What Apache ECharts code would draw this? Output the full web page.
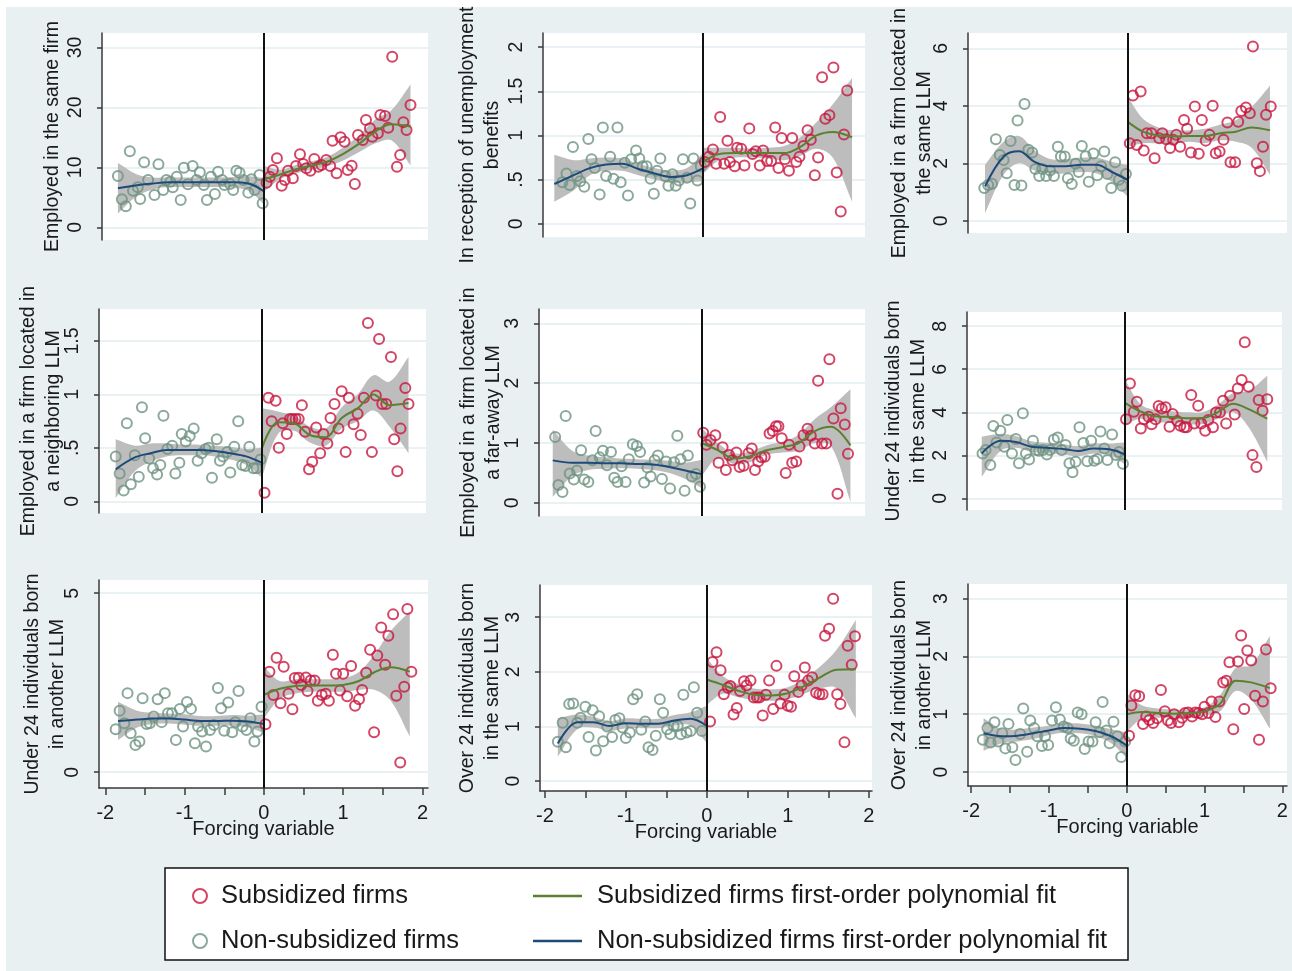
<!DOCTYPE html>
<html>
<head>
<meta charset="utf-8">
<script src="https://cdn.jsdelivr.net/npm/echarts@6/dist/echarts.min.js"></script>
<style>
html, body { margin: 0; padding: 0; background: #fff; }
#main { width: 1292px; height: 971px; }
</style>
</head>
<body>
<div id="main"></div>
<script>
// x positions where the fitted curves / bands are read
var xLeft  = [-1.84, -1.6, -1.4, -1.2, -1.0, -0.8, -0.6, -0.4, -0.2, 0];
var xRight = [0, 0.2, 0.4, 0.6, 0.8, 1.0, 1.2, 1.4, 1.6, 1.84];

// panel 1: Employed in the same firm
var nonSub1 = [[-1.84,8.56],[-1.79,4.67],[-1.74,3.5],[-1.69,12.67],[-1.65,6.11],[-1.59,6.67],[-1.56,4.72],[-1.51,10.83],[-1.46,7.89],[-1.38,5.39],[-1.33,10.5],[-1.27,6.22],[-1.23,7.89],[-1.18,7.61],[-1.15,6.67],[-1.1,8.44],[-1.05,4.56],[-1.01,9.94],[-0.96,7.17],[-0.9,10.22],[-0.85,7.89],[-0.81,9.17],[-0.76,7.06],[-0.72,4.56],[-0.67,8.44],[-0.62,5.56],[-0.58,9.28],[-0.53,7.89],[-0.5,7.06],[-0.43,7.22],[-0.39,6.22],[-0.35,9.44],[-0.31,9.11],[-0.26,7.89],[-0.2,5.78],[-0.16,8.0],[-0.12,6.22],[-0.06,8.72],[-0.02,4.0]];
var sub1 = [[0.03,7.44],[0.07,8.44],[0.11,9.56],[0.16,11.5],[0.22,6.94],[0.26,7.89],[0.3,9.44],[0.36,8.17],[0.4,10.22],[0.45,12.17],[0.49,10.56],[0.53,9.83],[0.58,9.44],[0.63,11.39],[0.68,10.11],[0.72,10.39],[0.78,11.22],[0.83,10.22],[0.86,14.44],[0.91,9.0],[0.96,15.0],[1.01,14.28],[1.05,9.56],[1.1,10.28],[1.14,7.22],[1.18,15.39],[1.24,14.56],[1.28,17.89],[1.33,16.5],[1.36,15.11],[1.43,15.67],[1.46,18.72],[1.52,18.56],[1.56,16.61],[1.61,28.44],[1.67,10.11],[1.71,12.06],[1.75,17.5],[1.79,16.22],[1.84,20.39]];
var fitNon1 = [6.5,7.0,7.3,7.5,7.5,7.5,7.5,7.5,7.3,6.0];
var loNon1  = [2.3,5.2,6.3,6.7,6.7,6.7,6.7,6.6,6.1,3.8];
var hiNon1  = [10.7,8.8,8.3,8.3,8.3,8.3,8.3,8.4,8.5,8.2];
var fitSub1 = [8.0,8.8,9.7,10.3,11.0,12.3,14.0,16.0,17.2,16.8];
var loSub1  = [6.0,8.0,9.0,9.6,10.2,11.2,12.6,14.0,14.5,10.3];
var hiSub1  = [10.2,9.6,10.4,11.0,11.8,13.4,15.4,18.0,19.5,23.8];

// panel 2: In reception of unemployment benefits
var nonSub2 = [[-1.74,0.47],[-1.69,0.57],[-1.65,0.44],[-1.61,0.87],[-1.56,0.54],[-1.52,0.48],[-1.47,0.42],[-1.42,0.96],[-1.38,0.73],[-1.34,0.63],[-1.28,0.33],[-1.24,1.09],[-1.2,0.54],[-1.15,0.76],[-1.11,0.51],[-1.06,1.09],[-1.02,0.47],[-0.97,0.69],[-0.93,0.32],[-0.89,0.73],[-0.83,0.83],[-0.79,0.74],[-0.75,0.65],[-0.7,0.65],[-0.65,0.51],[-0.61,0.34],[-0.57,0.6],[-0.53,0.74],[-0.47,0.54],[-0.43,0.43],[-0.38,0.56],[-0.34,0.43],[-0.3,0.49],[-0.25,0.73],[-0.2,0.52],[-0.16,0.23],[-0.12,0.74],[-0.07,0.49],[-0.03,0.65]];
var sub2 = [[0.02,0.7],[0.07,0.76],[0.12,0.84],[0.16,0.68],[0.21,1.21],[0.26,0.68],[0.3,0.94],[0.33,0.7],[0.39,0.65],[0.42,0.86],[0.47,0.85],[0.51,0.66],[0.57,1.08],[0.61,0.79],[0.65,0.82],[0.7,0.66],[0.74,0.83],[0.79,0.71],[0.84,0.71],[0.89,1.09],[0.93,0.63],[0.97,0.97],[1.01,0.73],[1.06,0.6],[1.1,0.97],[1.15,0.7],[1.19,0.76],[1.24,0.88],[1.29,1.06],[1.33,0.95],[1.38,0.55],[1.42,0.75],[1.47,1.66],[1.51,1.19],[1.56,1.23],[1.61,1.77],[1.65,0.58],[1.7,0.14],[1.74,1.01],[1.78,1.51]];
var fitNon2 = [0.45,0.55,0.63,0.67,0.68,0.62,0.57,0.53,0.55,0.63];
var loNon2  = [0.25,0.38,0.55,0.6,0.6,0.55,0.5,0.46,0.47,0.48];
var hiNon2  = [0.78,0.72,0.74,0.75,0.74,0.68,0.63,0.6,0.63,0.8];
var fitSub2 = [0.70,0.79,0.80,0.80,0.80,0.80,0.87,1.0,1.04,0.98];
var loSub2  = [0.57,0.72,0.75,0.75,0.74,0.72,0.77,0.85,0.75,0.25];
var hiSub2  = [0.86,0.86,0.86,0.85,0.86,0.88,0.98,1.15,1.35,1.65];

// panel 3: Employed in a firm located in the same LLM
var nonSub3 = [[-1.85,1.14],[-1.8,1.25],[-1.75,1.29],[-1.7,2.84],[-1.65,2.29],[-1.6,2.12],[-1.56,1.66],[-1.51,2.78],[-1.46,1.25],[-1.42,3.49],[-1.37,1.23],[-1.33,4.06],[-1.28,2.47],[-1.23,2.38],[-1.19,1.8],[-1.14,1.56],[-1.1,1.8],[-1.05,1.56],[-1.0,1.75],[-0.95,1.56],[-0.9,2.58],[-0.86,2.24],[-0.81,2.24],[-0.77,1.48],[-0.72,1.28],[-0.67,1.99],[-0.63,1.7],[-0.59,2.6],[-0.54,2.25],[-0.5,1.36],[-0.44,2.34],[-0.39,1.59],[-0.34,1.9],[-0.3,2.41],[-0.26,1.63],[-0.21,1.14],[-0.16,2.04],[-0.11,1.43],[-0.07,1.22],[-0.02,1.63]];
var sub3 = [[0.03,2.7],[0.07,4.36],[0.12,2.64],[0.17,4.5],[0.21,2.45],[0.25,3.05],[0.31,3.05],[0.35,2.18],[0.41,2.87],[0.45,3.05],[0.5,2.84],[0.55,2.53],[0.59,2.82],[0.63,2.99],[0.68,2.58],[0.73,3.51],[0.77,3.2],[0.82,2.38],[0.87,3.98],[0.92,2.33],[0.96,3.51],[1.01,2.79],[1.06,2.99],[1.1,4.0],[1.14,2.35],[1.19,2.41],[1.24,2.82],[1.29,3.42],[1.33,2.04],[1.39,2.04],[1.43,3.45],[1.47,3.82],[1.53,3.94],[1.58,3.74],[1.62,6.06],[1.67,2.0],[1.71,1.73],[1.75,2.58],[1.79,3.69],[1.85,3.98]];
var fitNon3 = [1.2,2.24,2.42,2.05,1.9,1.9,1.95,1.95,1.7,1.43];
var loNon3  = [0.27,1.6,2.0,1.75,1.65,1.65,1.7,1.65,1.35,0.85];
var hiNon3  = [1.95,2.75,2.95,2.45,2.15,2.15,2.2,2.2,2.05,1.95];
var fitSub3 = [3.45,3.1,2.97,2.93,2.95,2.95,3.05,3.1,3.25,3.15];
var loSub3  = [2.58,2.7,2.7,2.7,2.75,2.7,2.8,2.75,2.55,1.6];
var hiSub3  = [4.32,3.55,3.25,3.15,3.15,3.2,3.35,3.5,3.95,4.7];

// panel 4: Employed in a firm located in a neighboring LLM
var nonSub4 = [[-1.84,0.42],[-1.79,0.26],[-1.74,0.1],[-1.7,0.73],[-1.65,0.16],[-1.6,0.43],[-1.55,0.23],[-1.51,0.88],[-1.47,0.59],[-1.42,0.4],[-1.37,0.31],[-1.32,0.25],[-1.28,0.34],[-1.24,0.8],[-1.19,0.49],[-1.13,0.52],[-1.09,0.26],[-1.04,0.36],[-1.01,0.63],[-0.96,0.56],[-0.91,0.61],[-0.86,0.68],[-0.81,0.38],[-0.76,0.45],[-0.71,0.49],[-0.67,0.5],[-0.63,0.22],[-0.57,0.58],[-0.53,0.38],[-0.49,0.42],[-0.44,0.46],[-0.4,0.27],[-0.35,0.51],[-0.3,0.75],[-0.25,0.34],[-0.21,0.33],[-0.16,0.51],[-0.11,0.31],[-0.07,0.31],[-0.02,0.39]];
var sub4 = [[0.03,0.08],[0.08,0.97],[0.12,0.75],[0.17,0.94],[0.21,0.5],[0.26,0.73],[0.31,0.63],[0.35,0.77],[0.38,0.77],[0.42,0.77],[0.46,0.77],[0.5,0.9],[0.54,0.65],[0.59,0.3],[0.63,0.37],[0.68,0.69],[0.73,0.45],[0.77,0.63],[0.82,0.54],[0.86,0.78],[0.91,0.91],[0.96,0.68],[1.0,1.03],[1.05,0.46],[1.09,0.97],[1.15,0.72],[1.2,0.82],[1.24,0.62],[1.28,0.97],[1.33,1.67],[1.38,0.46],[1.43,0.99],[1.47,1.52],[1.51,0.91],[1.56,0.91],[1.62,1.35],[1.66,0.58],[1.7,0.28],[1.74,0.68],[1.8,1.06],[1.84,0.91]];
var fitNon4 = [0.30,0.41,0.45,0.48,0.48,0.48,0.47,0.45,0.42,0.36];
var loNon4  = [0.03,0.28,0.37,0.42,0.43,0.43,0.42,0.39,0.34,0.22];
var hiNon4  = [0.58,0.52,0.54,0.54,0.53,0.53,0.52,0.51,0.49,0.5];
var fitSub4 = [0.5,0.74,0.73,0.62,0.60,0.78,0.87,1.0,0.9,0.92];
var loSub4  = [0.23,0.63,0.66,0.55,0.52,0.68,0.75,0.85,0.7,0.45];
var hiSub4  = [0.87,0.84,0.8,0.7,0.68,0.88,1.0,1.18,1.12,1.35];

// panel 5: Employed in a firm located in a far-away LLM
var nonSub5 = [[-1.81,1.1],[-1.77,0.3],[-1.72,0.18],[-1.68,1.45],[-1.63,0.49],[-1.58,0.39],[-1.54,0.54],[-1.49,0.88],[-1.45,0.39],[-1.4,0.35],[-1.35,0.71],[-1.31,1.2],[-1.26,0.76],[-1.22,0.87],[-1.17,0.63],[-1.12,0.85],[-1.08,0.42],[-1.04,0.35],[-0.99,0.61],[-0.94,0.35],[-0.9,0.73],[-0.85,0.98],[-0.8,0.95],[-0.76,0.85],[-0.71,0.34],[-0.67,0.59],[-0.63,0.44],[-0.58,0.71],[-0.54,0.79],[-0.49,0.4],[-0.44,0.69],[-0.39,0.24],[-0.34,0.68],[-0.3,1.12],[-0.26,0.73],[-0.21,0.2],[-0.17,0.79],[-0.12,0.44],[-0.07,0.48],[-0.02,0.27]];
var sub5 = [[0.02,1.17],[0.06,0.97],[0.11,1.05],[0.17,1.13],[0.21,0.67],[0.26,0.93],[0.3,0.55],[0.34,0.8],[0.38,0.71],[0.43,0.84],[0.47,0.6],[0.52,0.62],[0.58,0.83],[0.62,0.91],[0.66,0.55],[0.7,0.69],[0.74,0.76],[0.78,0.77],[0.84,1.16],[0.88,1.2],[0.92,1.28],[0.95,1.28],[0.99,1.08],[1.04,0.5],[1.08,0.97],[1.12,0.67],[1.17,0.69],[1.21,0.94],[1.26,1.13],[1.31,1.24],[1.35,1.12],[1.4,0.99],[1.44,2.04],[1.49,0.99],[1.54,0.99],[1.58,2.4],[1.63,1.41],[1.68,0.15],[1.72,1.58],[1.77,1.31],[1.81,0.82]];
var fitNon5 = [0.71,0.67,0.67,0.66,0.66,0.65,0.64,0.6,0.54,0.48];
var loNon5  = [0.1,0.45,0.55,0.57,0.58,0.57,0.55,0.5,0.4,0.25];
var hiNon5  = [1.22,0.87,0.79,0.76,0.74,0.73,0.72,0.7,0.67,0.72];
var fitSub5 = [1.0,0.88,0.74,0.78,0.88,0.93,1.0,1.2,1.27,0.96];
var loSub5  = [0.45,0.75,0.65,0.68,0.8,0.84,0.87,1.0,0.95,0.02];
var hiSub5  = [1.25,1.0,0.83,0.86,0.96,1.02,1.14,1.4,1.6,1.9];

// panel 6: Under 24 individuals born in the same LLM
var nonSub6 = [[-1.83,2.09],[-1.79,2.25],[-1.73,1.55],[-1.69,3.36],[-1.65,2.6],[-1.6,3.14],[-1.55,2.4],[-1.51,3.64],[-1.45,2.09],[-1.4,2.76],[-1.36,1.63],[-1.31,3.95],[-1.27,2.09],[-1.23,1.81],[-1.18,2.68],[-1.14,2.25],[-1.1,2.21],[-1.05,2.25],[-1.0,2.04],[-0.96,2.25],[-0.91,2.74],[-0.86,2.83],[-0.81,2.25],[-0.76,2.48],[-0.71,1.63],[-0.67,1.21],[-0.63,1.7],[-0.58,3.3],[-0.53,2.57],[-0.48,1.72],[-0.43,2.68],[-0.39,1.75],[-0.35,1.83],[-0.31,3.11],[-0.26,2.32],[-0.22,1.78],[-0.16,2.97],[-0.11,2.01],[-0.07,2.15],[-0.02,1.61]];
var sub6 = [[0.02,3.68],[0.07,5.34],[0.12,4.03],[0.16,4.49],[0.21,3.25],[0.25,3.68],[0.31,3.79],[0.35,3.44],[0.4,3.68],[0.44,4.29],[0.48,4.18],[0.53,4.23],[0.58,3.33],[0.62,3.92],[0.68,3.59],[0.72,3.38],[0.77,3.3],[0.8,3.3],[0.86,4.8],[0.9,3.48],[0.95,4.3],[0.99,3.48],[1.04,3.14],[1.08,3.64],[1.14,3.3],[1.18,3.99],[1.23,3.99],[1.27,4.54],[1.31,3.48],[1.36,4.77],[1.42,3.9],[1.46,5.11],[1.51,5.5],[1.55,7.25],[1.6,5.19],[1.65,2.01],[1.7,1.46],[1.73,4.57],[1.78,4.07],[1.84,4.61]];
var fitNon6 = [2.09,2.68,2.62,2.4,2.35,2.3,2.2,2.32,2.28,2.05];
var loNon6  = [1.0,2.2,2.35,2.15,2.1,2.05,1.95,2.08,2.02,1.6];
var hiNon6  = [2.86,3.0,2.9,2.65,2.58,2.53,2.43,2.56,2.55,2.6];
var fitSub6 = [4.45,4.05,3.82,3.78,3.72,3.73,4.0,4.4,4.15,3.7];
var loSub6  = [3.4,3.7,3.55,3.5,3.45,3.45,3.7,4.0,3.3,1.7];
var hiSub6  = [5.57,4.4,4.1,4.05,4.0,4.0,4.35,4.9,5.0,5.7];

// panel 7: Under 24 individuals born in another LLM
var nonSub7 = [[-1.87,1.2],[-1.82,1.72],[-1.76,1.37],[-1.72,2.21],[-1.68,1.09],[-1.62,0.76],[-1.57,0.86],[-1.53,2.07],[-1.48,1.35],[-1.44,1.37],[-1.39,1.56],[-1.34,2.04],[-1.29,1.4],[-1.25,2.21],[-1.21,1.65],[-1.16,1.65],[-1.11,0.9],[-1.06,1.77],[-1.02,1.28],[-0.97,1.96],[-0.92,1.77],[-0.87,0.81],[-0.83,1.28],[-0.78,1.14],[-0.73,0.72],[-0.68,1.18],[-0.63,1.32],[-0.58,2.35],[-0.54,1.79],[-0.5,1.16],[-0.45,1.95],[-0.4,1.12],[-0.36,1.4],[-0.32,2.27],[-0.27,1.28],[-0.22,1.18],[-0.17,1.51],[-0.12,0.86],[-0.08,1.14],[-0.03,1.83]];
var sub7 = [[0.02,1.34],[0.07,2.81],[0.12,2.16],[0.16,3.2],[0.21,1.93],[0.25,2.95],[0.31,2.19],[0.36,1.76],[0.39,2.63],[0.44,2.64],[0.47,2.44],[0.53,2.65],[0.55,2.27],[0.59,2.56],[0.64,2.56],[0.68,2.0],[0.73,2.16],[0.78,2.19],[0.82,2.0],[0.87,3.28],[0.91,2.75],[0.96,2.28],[1.0,2.75],[1.05,2.12],[1.1,2.97],[1.15,1.86],[1.2,2.04],[1.24,2.3],[1.29,2.78],[1.34,3.42],[1.39,1.12],[1.43,3.26],[1.48,4.04],[1.53,3.0],[1.57,3.81],[1.63,4.41],[1.67,2.14],[1.72,0.27],[1.77,2.39],[1.81,4.56],[1.86,2.81]];
var fitNon7 = [1.43,1.47,1.5,1.5,1.47,1.43,1.43,1.44,1.42,1.35];
var loNon7  = [0.9,1.25,1.35,1.36,1.33,1.3,1.3,1.3,1.25,1.1];
var hiNon7  = [1.97,1.72,1.66,1.64,1.62,1.57,1.57,1.6,1.58,1.62];
var fitSub7 = [2.16,2.33,2.41,2.42,2.42,2.44,2.55,2.8,2.93,2.81];
var loSub7  = [1.5,2.05,2.2,2.25,2.25,2.25,2.3,2.3,2.0,1.0];
var hiSub7  = [2.95,2.55,2.6,2.6,2.6,2.62,2.8,3.3,3.95,4.5];

// panel 8: Over 24 individuals born in the same LLM
var nonSub8 = [[-1.84,0.72],[-1.78,1.07],[-1.74,0.62],[-1.7,1.41],[-1.65,1.42],[-1.6,1.07],[-1.56,1.16],[-1.5,1.36],[-1.46,0.81],[-1.41,1.3],[-1.37,0.56],[-1.33,1.19],[-1.28,0.73],[-1.23,1.0],[-1.17,0.81],[-1.13,1.12],[-1.08,1.15],[-1.04,0.98],[-1.0,0.79],[-0.95,0.89],[-0.91,1.5],[-0.86,1.59],[-0.81,0.94],[-0.76,1.09],[-0.72,0.62],[-0.67,0.57],[-0.63,0.83],[-0.58,1.5],[-0.54,1.25],[-0.49,0.95],[-0.45,0.86],[-0.41,1.01],[-0.36,1.01],[-0.32,0.86],[-0.29,1.58],[-0.25,0.89],[-0.2,0.92],[-0.16,1.72],[-0.12,1.25],[-0.06,0.92]];
var sub8 = [[0.04,1.09],[0.07,2.18],[0.12,2.36],[0.17,2.03],[0.21,1.59],[0.26,1.71],[0.29,1.74],[0.33,1.22],[0.37,1.34],[0.41,1.65],[0.46,1.83],[0.49,1.75],[0.54,1.84],[0.58,1.53],[0.62,1.53],[0.65,1.53],[0.69,1.2],[0.73,1.58],[0.77,1.84],[0.82,1.32],[0.86,2.11],[0.91,1.42],[0.96,1.58],[1.0,1.38],[1.04,1.36],[1.08,1.92],[1.13,1.63],[1.17,1.75],[1.21,2.08],[1.25,1.84],[1.3,1.9],[1.35,1.62],[1.39,1.59],[1.43,1.59],[1.46,2.66],[1.51,2.79],[1.56,3.34],[1.61,1.59],[1.65,1.41],[1.7,0.71],[1.74,2.48],[1.79,2.13],[1.83,2.65]];
var fitNon8 = [0.69,1.08,1.08,1.01,1.06,1.05,1.05,1.11,1.14,1.01];
var loNon8  = [0.45,0.95,0.98,0.92,0.97,0.97,0.97,1.02,1.02,0.7];
var hiNon8  = [1.15,1.22,1.18,1.1,1.15,1.14,1.14,1.21,1.26,1.38];
var fitSub8 = [1.86,1.76,1.65,1.58,1.57,1.61,1.74,1.9,2.04,2.05];
var loSub8  = [1.4,1.6,1.53,1.48,1.47,1.5,1.6,1.7,1.7,1.15];
var hiSub8  = [2.25,1.92,1.77,1.69,1.68,1.72,1.88,2.1,2.4,2.95];

// panel 9: Over 24 individuals born in another LLM
var nonSub9 = [[-1.85,0.56],[-1.79,0.76],[-1.75,0.51],[-1.7,0.86],[-1.65,0.53],[-1.6,0.67],[-1.56,0.41],[-1.52,0.83],[-1.47,0.43],[-1.43,0.21],[-1.37,0.66],[-1.33,1.1],[-1.28,0.35],[-1.24,0.89],[-1.19,0.76],[-1.15,0.62],[-1.09,0.45],[-1.05,0.62],[-1.01,0.47],[-0.96,0.89],[-0.91,1.12],[-0.86,0.91],[-0.81,0.79],[-0.76,0.76],[-0.72,0.58],[-0.68,0.54],[-0.63,1.03],[-0.58,1.0],[-0.54,0.4],[-0.49,0.53],[-0.44,0.53],[-0.4,0.86],[-0.35,0.69],[-0.31,1.21],[-0.26,0.72],[-0.22,0.5],[-0.17,0.87],[-0.12,0.62],[-0.07,0.26],[-0.02,0.53]];
var sub9 = [[0.03,0.63],[0.06,1.15],[0.11,1.33],[0.16,1.31],[0.21,0.83],[0.25,0.96],[0.29,0.9],[0.34,0.85],[0.39,0.93],[0.44,1.42],[0.49,1.05],[0.53,0.89],[0.57,0.85],[0.61,1.0],[0.67,0.86],[0.71,0.94],[0.75,1.02],[0.79,1.03],[0.84,0.96],[0.88,1.03],[0.92,1.02],[0.97,1.0],[1.0,1.13],[1.05,1.02],[1.09,1.22],[1.14,0.95],[1.19,1.22],[1.24,1.55],[1.28,1.58],[1.32,1.9],[1.37,0.74],[1.43,1.91],[1.47,2.36],[1.51,1.09],[1.55,2.1],[1.6,1.93],[1.65,1.32],[1.7,0.56],[1.75,1.22],[1.79,2.12],[1.85,1.45]];
var fitNon9 = [0.67,0.62,0.63,0.67,0.72,0.76,0.75,0.71,0.62,0.46];
var loNon9  = [0.37,0.5,0.53,0.57,0.64,0.68,0.67,0.62,0.5,0.25];
var hiNon9  = [0.93,0.74,0.74,0.77,0.8,0.84,0.84,0.8,0.74,0.68];
var fitSub9 = [1.0,1.04,1.02,1.01,1.02,1.05,1.18,1.58,1.55,1.45];
var loSub9  = [0.7,0.93,0.94,0.94,0.96,0.98,1.05,1.4,1.25,0.75];
var hiSub9  = [1.36,1.15,1.1,1.08,1.08,1.12,1.33,1.8,1.85,2.35];

var titles = [
    'Employed in the same firm',
    'In reception of unemployment\nbenefits',
    'Employed in a firm located in\nthe same LLM',
    'Employed in a firm located in\na neighboring LLM',
    'Employed in a firm located in\na far-away LLM',
    'Under 24 individuals born\nin the same LLM',
    'Under 24 individuals born\nin another LLM',
    'Over 24 individuals born\nin the same LLM',
    'Over 24 individuals born\nin another LLM'
];
var yTicks = [[0,10,20,30],[0,0.5,1,1.5,2],[0,2,4,6],[0,0.5,1,1.5],[0,1,2,3],[0,2,4,6,8],[0,5],[0,1,2,3],[0,1,2,3]];
var xTicks = [-2,-1.5,-1,-0.5,0,0.5,1,1.5,2];
var xLabels = [-2,-1,0,1,2];

var nonSub = [nonSub1,nonSub2,nonSub3,nonSub4,nonSub5,nonSub6,nonSub7,nonSub8,nonSub9];
var sub = [sub1,sub2,sub3,sub4,sub5,sub6,sub7,sub8,sub9];
var fitNon = [fitNon1,fitNon2,fitNon3,fitNon4,fitNon5,fitNon6,fitNon7,fitNon8,fitNon9];
var loNon = [loNon1,loNon2,loNon3,loNon4,loNon5,loNon6,loNon7,loNon8,loNon9];
var hiNon = [hiNon1,hiNon2,hiNon3,hiNon4,hiNon5,hiNon6,hiNon7,hiNon8,hiNon9];
var fitSub = [fitSub1,fitSub2,fitSub3,fitSub4,fitSub5,fitSub6,fitSub7,fitSub8,fitSub9];
var loSub = [loSub1,loSub2,loSub3,loSub4,loSub5,loSub6,loSub7,loSub8,loSub9];
var hiSub = [hiSub1,hiSub2,hiSub3,hiSub4,hiSub5,hiSub6,hiSub7,hiSub8,hiSub9];

// layout of each panel (pixels + axis extents)
var layout = [
    {left:102, top:33,  width:326, height:207, x:[-2.04,2.06], y:[-2.12,32.4], gap:37},
    {left:543, top:33,  width:322, height:204, x:[-1.98,2.0],  y:[-0.15,2.16], gap:38},
    {left:968, top:33,  width:319, height:200, x:[-2.06,2.06], y:[-0.42,6.53], gap:31},
    {left:99,  top:309, width:327, height:204, x:[-2.05,2.06], y:[-0.11,1.80], gap:33},
    {left:539, top:309, width:326, height:207, x:[-2.01,2.02], y:[-0.22,3.24], gap:33},
    {left:967, top:312, width:315, height:198, x:[-2.03,2.03], y:[-0.54,8.66], gap:36},
    {left:99,  top:580, width:329, height:208, x:[-2.08,2.07], y:[-0.44,5.37], gap:29},
    {left:540, top:585, width:332, height:206, x:[-2.06,2.04], y:[-0.18,3.59], gap:35},
    {left:968, top:584, width:319, height:202, x:[-2.04,2.06], y:[-0.24,3.25], gap:31}
];

var FONT = 'Liberation Sans, Arial, sans-serif';
var RED = '#c8173f';
var GREEN_PT = '#6e9482';
var BLUE = '#1e4a7a';
var GREEN_LINE = '#5b8030';
var BAND = '#bdbdbd';
var AXIS = '#3a3a3a';
var TEXT = '#1a1a1a';

function fmt(v) { return String(v).replace(/^0\./, '.'); }
function pairs(xs, ys) { return xs.map(function (x, j) { return [x, ys[j]]; }); }
function triples(xs, lo, hi) { return xs.map(function (x, j) { return [x, lo[j], hi[j]]; }); }

// confidence band drawn as one smoothed polygon through the axis scales
function bandItem(params, api) {
    if (params.dataIndex !== 0) return null;
    var n = params.dataInsideLength, top = [], bot = [];
    for (var k = 0; k < n; k++) {
        top.push(api.coord([api.value(0, k), api.value(2, k)]));
        bot.push(api.coord([api.value(0, k), api.value(1, k)]));
    }
    bot.reverse();
    // doubled corner points keep the ends of the band square
    var pts = [top[0]].concat(top, [top[n - 1]], [bot[0]], bot, [bot[n - 1]]);
    return {type: 'polygon', shape: {points: pts, smooth: 0.35}, style: {fill: BAND}, silent: true};
}

var grids = [], xAxes = [], yAxes = [], series = [];

layout.forEach(function (L, i) {
    var bottomRow = i >= 6;
    grids.push({left: L.left, top: L.top, width: L.width, height: L.height,
        show: true, backgroundColor: '#fff', borderWidth: 0});
    xAxes.push({
        type: 'value', gridIndex: i, min: L.x[0], max: L.x[1],
        axisLine: {show: bottomRow, onZero: false, lineStyle: {color: AXIS, width: 1.5}},
        axisTick: {show: bottomRow, customValues: xTicks, length: 7, lineStyle: {color: AXIS, width: 1.5}},
        axisLabel: {show: bottomRow, customValues: xLabels, margin: 15, fontSize: 20, color: TEXT, fontFamily: FONT},
        splitLine: {show: false},
        name: bottomRow ? 'Forcing variable' : '', nameLocation: 'middle', nameGap: 31,
        nameMoveOverlap: false,
        nameTextStyle: {fontSize: 20, color: TEXT, fontFamily: FONT}
    });
    yAxes.push({
        type: 'value', gridIndex: i, min: L.y[0], max: L.y[1],
        axisLine: {show: true, onZero: false, lineStyle: {color: AXIS, width: 1.5}},
        axisTick: {show: true, customValues: yTicks[i], length: 5, lineStyle: {color: AXIS, width: 1.5}},
        axisLabel: {customValues: yTicks[i], rotate: 90, margin: 16, fontSize: 19.5, color: TEXT,
            fontFamily: FONT, formatter: fmt},
        splitLine: {show: true, lineStyle: {color: '#e2ecf0', width: 1.5}},
        name: titles[i], nameLocation: 'middle', nameRotate: 90, nameGap: L.gap,
        nameMoveOverlap: false,
        nameTextStyle: {fontSize: 19.5, lineHeight: 25, color: TEXT, fontFamily: FONT}
    });

    var base = {xAxisIndex: i, yAxisIndex: i};
    series.push(Object.assign({type: 'custom', silent: true, renderItem: bandItem,
        data: triples(xLeft, loNon[i], hiNon[i])}, base));
    series.push(Object.assign({type: 'custom', silent: true, renderItem: bandItem,
        data: triples(xRight, loSub[i], hiSub[i])}, base));
    // binned scatter
    series.push(Object.assign({type: 'scatter', name: 'Non-subsidized firms', data: nonSub[i],
        symbol: 'circle', symbolSize: 10,
        itemStyle: {color: 'rgba(0,0,0,0)', borderColor: GREEN_PT, borderWidth: 2}}, base));
    series.push(Object.assign({type: 'scatter', name: 'Subsidized firms', data: sub[i],
        symbol: 'circle', symbolSize: 10,
        itemStyle: {color: 'rgba(0,0,0,0)', borderColor: RED, borderWidth: 2},
        markLine: {silent: true, symbol: ['none', 'none'], label: {show: false},
            lineStyle: {color: '#111', width: 2, type: 'solid'}, data: [{xAxis: 0}]}}, base));
    // polynomial fits
    series.push(Object.assign({type: 'line', name: 'Non-subsidized firms first-order polynomial fit',
        data: pairs(xLeft, fitNon[i]), symbol: 'none', smooth: 0.35,
        lineStyle: {color: BLUE, width: 2}, itemStyle: {color: BLUE}}, base));
    series.push(Object.assign({type: 'line', name: 'Subsidized firms first-order polynomial fit',
        data: pairs(xRight, fitSub[i]), symbol: 'none', smooth: 0.35,
        lineStyle: {color: GREEN_LINE, width: 2}, itemStyle: {color: GREEN_LINE}}, base));
});

var legendText = {fontSize: 25.5, color: TEXT, fontFamily: FONT, lineHeight: 30};

var myChart = echarts.init(document.getElementById('main'), null, {renderer: 'canvas'});
option = {
    backgroundColor: '#fff',
    animation: false,
    graphic: [
        {type: 'rect', z: -10, shape: {x: 6, y: 7, width: 1286, height: 964}, style: {fill: '#e8f0f2'}},
        {type: 'rect', z: 0, shape: {x: 165, y: 868, width: 963, height: 92},
            style: {fill: '#fff', stroke: '#111', lineWidth: 1.5}}
    ],
    legend: [
        {left: 187, top: 876, orient: 'vertical', itemGap: 15, itemWidth: 20, itemHeight: 14,
            selectedMode: false, textStyle: Object.assign({padding: [0, 0, 0, 6]}, legendText),
            data: ['Subsidized firms', 'Non-subsidized firms']},
        {left: 528, top: 876, orient: 'vertical', itemGap: 15, itemWidth: 49, itemHeight: 2.5,
            selectedMode: false, textStyle: Object.assign({padding: [0, 0, 0, 10]}, legendText),
            data: [{name: 'Subsidized firms first-order polynomial fit', icon: 'rect'},
                   {name: 'Non-subsidized firms first-order polynomial fit', icon: 'rect'}]}
    ],
    grid: grids,
    xAxis: xAxes,
    yAxis: yAxes,
    series: series
};
myChart.setOption(option);
</script>
</body>
</html>
